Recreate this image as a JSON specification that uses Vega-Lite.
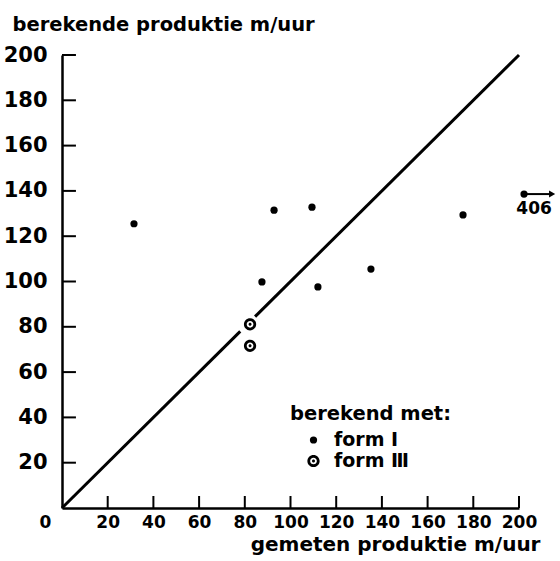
{
  "$schema": "https://vega.github.io/schema/vega-lite/v6.json",
  "width": 457,
  "height": 453,
  "autosize": {"type": "none"},
  "padding": {"left": 62, "top": 55, "right": 41, "bottom": 53},
  "background": "white",
  "config": {
    "view": {"stroke": null},
    "font": "DejaVu Sans",
    "axis": {"grid": false, "domainColor": "black", "tickColor": "black", "labelColor": "black", "titleColor": "black", "labelFont": "DejaVu Sans", "titleFont": "DejaVu Sans", "titleFontWeight": "bold", "labelFontWeight": "bold"}
  },
  "datasets": {
    "diagonaal": [
      {"gemeten": 0, "berekend": 0, "deel": "a"},
      {"gemeten": 78, "berekend": 78, "deel": "a"},
      {"gemeten": 84.5, "berekend": 84.5, "deel": "b"},
      {"gemeten": 200, "berekend": 200, "deel": "b"}
    ],
    "metingen": [
      {"gemeten": 31.5, "berekend": 125.5, "formule": "form Ⅰ"},
      {"gemeten": 87.5, "berekend": 99.8, "formule": "form Ⅰ"},
      {"gemeten": 92.8, "berekend": 131.5, "formule": "form Ⅰ"},
      {"gemeten": 109.4, "berekend": 132.8, "formule": "form Ⅰ"},
      {"gemeten": 112, "berekend": 97.6, "formule": "form Ⅰ"},
      {"gemeten": 135.2, "berekend": 105.5, "formule": "form Ⅰ"},
      {"gemeten": 175.5, "berekend": 129.4, "formule": "form Ⅰ"},
      {"gemeten": 202.2, "berekend": 138.6, "formule": "form Ⅰ"},
      {"gemeten": 82.3, "berekend": 81.1, "formule": "form Ⅲ"},
      {"gemeten": 82.3, "berekend": 71.6, "formule": "form Ⅲ"}
    ],
    "pijl": [
      {"van": 203.5, "tot": 214.5, "berekend": 138.6}
    ],
    "uitschieter": [
      {"gemeten": 206.6, "berekend": 129.6, "tekst": "406"}
    ],
    "schaalwaarden": [
      {"waarde": 20}, {"waarde": 40}, {"waarde": 60}, {"waarde": 80}, {"waarde": 100},
      {"waarde": 120}, {"waarde": 140}, {"waarde": 160}, {"waarde": 180}, {"waarde": 200}
    ]
  },
  "layer": [
    {
      "data": {"name": "diagonaal"},
      "mark": {"type": "line", "color": "black", "strokeWidth": 3},
      "encoding": {
        "x": {"field": "gemeten", "type": "quantitative", "scale": {"domain": [0, 200], "nice": false, "zero": false},
          "axis": {
            "values": [0, 20, 40, 60, 80, 100, 120, 140, 160, 180, 200],
            "ticks": false, "domainWidth": 2.5,
            "labelFontSize": 17, "labelPadding": 6, "labelFlush": false,
            "labelOffset": {"condition": {"test": "datum.value == 0", "value": -17}, "value": 0},
            "title": "gemeten produktie m/uur", "titleFontSize": 20,
            "titleAngle": 0, "titleAlign": "right", "titleBaseline": "alphabetic", "titleX": 478, "titleY": 42
          }
        },
        "y": {"field": "berekend", "type": "quantitative", "scale": {"domain": [0, 200], "nice": false, "zero": false},
          "axis": {
            "values": [0, 20, 40, 60, 80, 100, 120, 140, 160, 180, 200],
            "labelExpr": "datum.value == 0 ? '' : datum.label",
            "ticks": false, "domainWidth": 2.5,
            "labelFontSize": 21, "labelPadding": 15, "labelFlush": false,
            "title": "berekende produktie m/uur", "titleFontSize": 19.5,
            "titleAngle": 0, "titleAlign": "left", "titleBaseline": "alphabetic", "titleX": -50, "titleY": -25
          }
        },
        "detail": {"field": "deel"}
      }
    },
    {
      "data": {"name": "schaalwaarden"},
      "mark": {"type": "rule", "color": "black", "strokeWidth": 2},
      "encoding": {
        "x": {"field": "waarde", "type": "quantitative"},
        "y": {"datum": 0},
        "y2": {"datum": 5.3}
      }
    },
    {
      "data": {"name": "schaalwaarden"},
      "mark": {"type": "rule", "color": "black", "strokeWidth": 2},
      "encoding": {
        "y": {"field": "waarde", "type": "quantitative"},
        "x": {"datum": 0},
        "x2": {"datum": 6.1}
      }
    },
    {
      "data": {"name": "metingen"},
      "mark": {"type": "point", "filled": true, "color": "black", "opacity": 1},
      "encoding": {
        "x": {"field": "gemeten", "type": "quantitative"},
        "y": {"field": "berekend", "type": "quantitative"},
        "shape": {"field": "formule", "type": "nominal",
          "scale": {"domain": ["form Ⅰ", "form Ⅲ"], "range": ["circle", "M1,0A1,1,0,1,1,-1,0A1,1,0,1,1,1,0ZM0.55,0A0.55,0.55,0,1,0,-0.55,0A0.55,0.55,0,1,0,0.55,0ZM0.25,0A0.25,0.25,0,1,1,-0.25,0A0.25,0.25,0,1,1,0.25,0Z"]},
          "legend": {
            "title": "berekend met:", "orient": "none", "legendX": 228, "legendY": 350,
            "titleFontSize": 19.5, "titleFontWeight": "bold", "titleFont": "DejaVu Sans", "titleColor": "black",
            "labelFontSize": 19, "labelFontWeight": "bold", "labelFont": "DejaVu Sans", "labelColor": "black",
            "symbolOffset": 14, "labelOffset": 11, "rowPadding": 1, "titlePadding": 6,
            "symbolFillColor": "black", "symbolStrokeWidth": 0, "padding": 0
          }
        },
        "size": {"field": "formule", "type": "nominal", "scale": {"domain": ["form Ⅰ", "form Ⅲ"], "range": [52, 150]}}
      }
    },
    {
      "data": {"name": "pijl"},
      "mark": {"type": "rule", "color": "black", "strokeWidth": 2},
      "encoding": {
        "x": {"field": "van", "type": "quantitative"},
        "x2": {"field": "tot"},
        "y": {"field": "berekend", "type": "quantitative"}
      }
    },
    {
      "data": {"name": "pijl"},
      "mark": {"type": "point", "shape": "triangle-right", "filled": true, "color": "black", "opacity": 1, "size": 50},
      "encoding": {
        "x": {"field": "tot", "type": "quantitative"},
        "y": {"field": "berekend", "type": "quantitative"}
      }
    },
    {
      "data": {"name": "uitschieter"},
      "mark": {"type": "text", "fontSize": 17, "font": "DejaVu Sans", "fontWeight": "bold", "color": "black", "align": "center", "baseline": "alphabetic"},
      "encoding": {
        "x": {"field": "gemeten", "type": "quantitative"},
        "y": {"field": "berekend", "type": "quantitative"},
        "text": {"field": "tekst"}
      }
    }
  ]
}
